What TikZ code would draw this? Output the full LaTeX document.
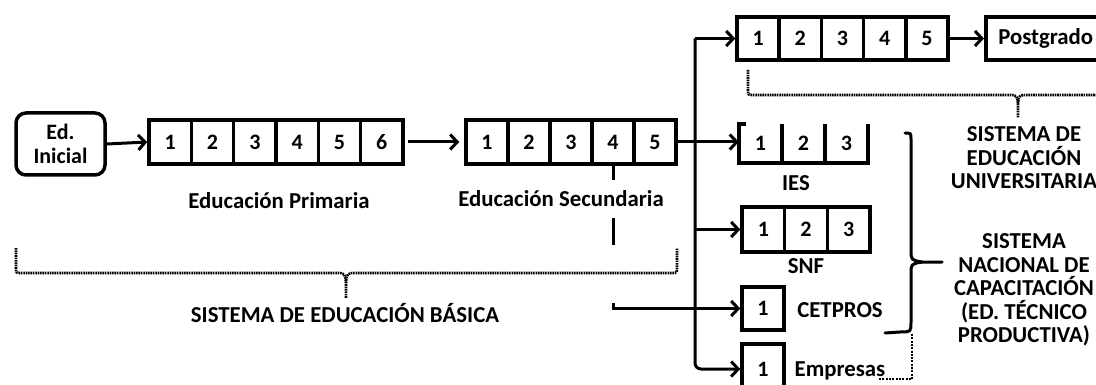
\documentclass[tikz,border=0pt]{standalone}
\usepackage{fontspec}
\setmainfont{Carlito}[Numbers=Lining]
\usetikzlibrary{arrows.meta,calc}
\begin{document}
\begin{tikzpicture}[x=1pt,y=-1pt,
  lbl/.style={font=\bfseries\fontsize{22.8}{23.5}\selectfont, inner sep=0pt},
  cellbox/.style={draw, line width=3.5pt, inner sep=0pt, font=\bfseries\fontsize{22}{24}\selectfont, minimum height=44pt},
  cellghost/.style={inner sep=0pt, font=\bfseries\fontsize{22}{24}\selectfont},
  arr/.style={line width=3pt, -{Straight Barb[length=7pt,width=15pt]}},
  conn/.style={line width=3pt},
  brline/.style={line width=2.6pt, dash pattern=on 1.6pt off 0.8pt},
  dotline/.style={line width=2.6pt, dash pattern=on 2pt off 1.3pt},
  curly/.style={line width=3pt, line cap=round},
]
\useasboundingbox (0,0) rectangle (1096,385);
\clip (0,0) rectangle (1096,385);

% Ed. Inicial
\node[draw, rounded corners=10pt, line width=3.5pt, minimum width=89pt, minimum height=62pt,
      align=center, font=\bfseries\fontsize{22}{24}\selectfont] (ini) at (60.5,144) {Ed.\\Inicial};

% Primaria
\foreach \i in {1,...,6}
  \node[cellbox, minimum width=42.33pt] (p\i) at ({149+42.33*(\i-0.5)},142) {\i};
% Secundaria
\foreach \i in {1,...,5}
  \node[cellbox, minimum width=42pt] (s\i) at ({466+42*(\i-0.5)},142) {\i};
% Universidad
\foreach \i in {1,...,5}
  \node[cellbox, minimum width=42.2pt, minimum height=43pt] (u\i) at ({737+42.2*(\i-0.5)},38.5) {\i};
\node[cellbox, minimum width=120pt, minimum height=43pt, anchor=west, font=\bfseries\fontsize{22.8}{24}\selectfont] (pg) at (984,38.5) {Postgrado};
% IES (open top)
\foreach \i in {1,2,3}
  \node[cellghost, minimum width=43pt, minimum height=39pt] (i\i) at ({739+43*(\i-0.5)},143.5) {\i};
\draw[line width=3.5pt] ($(i1.north west)+(7,0)$) -- (i1.north west) -- (i1.south west) -- (i3.south east) -- (i3.north east);
\draw[line width=3.5pt] (i1.north east) -- (i1.south east);
\draw[line width=3.5pt] (i2.north east) -- (i2.south east);
% SNF
\foreach \i in {1,2,3}
  \node[cellbox, minimum width=42.67pt, minimum height=45pt] (n\i) at ({742+42.67*(\i-0.5)},229.5) {\i};
% CETPROS, Empresas
\node[cellbox, minimum width=42pt, minimum height=43pt] (c1) at (763,308.5) {1};
\node[cellbox, minimum width=42pt, minimum height=50pt] (e1) at (763,369) {1};

% connectors
\draw[arr] (ini.east) -- (p1.west);
\draw[arr, shorten <=3pt, shorten >=5pt] (p6.east) -- (s1.west);
\coordinate (bT) at (695,38.5);
\draw[arr] (bT) -- (u1.west);
\draw[arr, rounded corners=6pt] (bT) -- (bT |- e1.west) -- (e1.west);
\draw[arr] (s5.east) -- (s5.east -| i1.west);
\draw[arr] (bT |- n1.west) -- (n1.west);
\draw[arr] (u5.east) -- (pg.west);
\draw[conn] (s4.south) -- (s4.south |- 0,245);
\coordinate (ct) at (613,303);
\draw[arr] (ct) |- (c1.west);

% labels
\node[lbl, anchor=base] (lprim) at (279,209) {Educación Primaria};
\node[lbl, anchor=base, fill=white, inner ysep=11pt, inner xsep=1pt] (lsec) at (561,207) {Educación Secundaria};
\node[lbl, anchor=base] (lbas) at (345,322) {SISTEMA DE EDUCACIÓN BÁSICA};
\node[lbl, anchor=base] (lies) at (796,190) {IES};
\node[lbl, anchor=base] (lsnf) at (806,273) {SNF};
\node[lbl, anchor=base] (lcet) at (840,317) {CETPROS};
\node[lbl, anchor=base] (lemp) at (840,376) {Empresas};
\node[lbl, align=center] (luni) at (1024,158) {SISTEMA DE\\EDUCACIÓN\\UNIVERSITARIA};
\node[lbl, align=center] (lsnc) at (1024,290) {SISTEMA\\NACIONAL DE\\CAPACITACIÓN\\(ED. TÉCNICO\\PRODUCTIVA)};

% brace basic
\draw[brline] (16,248) -- (16,268) .. controls (16,273) .. (21,273) -- (336,273)
   .. controls (345,273) .. (346,283) -- (346,298);
\draw[brline] (346,283) .. controls (347,273) .. (356,273) -- (672,273)
   .. controls (677,273) .. (677,268) -- (677,248);
% brace university
\draw[brline] (748,70) -- (748,90) .. controls (748,95) .. (753,95) -- (1008,95)
   .. controls (1017,95) .. (1018,104) -- (1018,118);
\draw[brline] (1018,104) .. controls (1019,95) .. (1028,95) -- (1283,95)
   .. controls (1288,95) .. (1288,90) -- (1288,70);
% curly brace right
\draw[curly] (905,133) .. controls (911,133) .. (911,140) -- (911,250)
   .. controls (911,260) .. (922,262) -- (942,262);
\draw[curly] (922,262) .. controls (911,264) .. (911,274) -- (911,322)
   .. controls (911,332) .. (900,332) -- (885,333);
\draw[dotline] (912,334) -- (912,379) -- (879,379);
\end{tikzpicture}
\end{document}
